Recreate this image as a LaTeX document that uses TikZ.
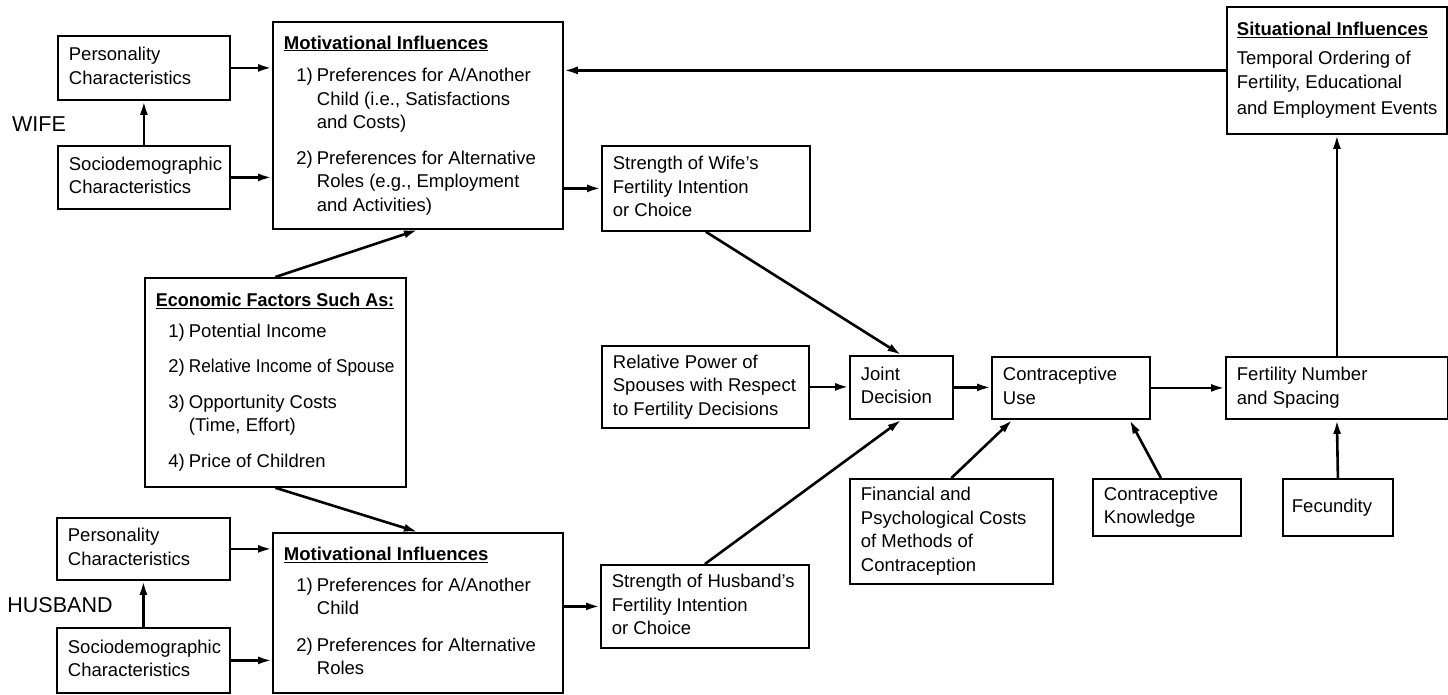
\documentclass[tikz,border=0pt]{standalone}
\usepackage{fontspec}
\setmainfont{Liberation Sans}
\usepackage{graphicx}
\usetikzlibrary{arrows.meta,calc}
\newcommand\dsize{\fontsize{18.5pt}{23.5pt}\selectfont}
\newcommand\lsize{\fontsize{21.5pt}{25pt}\selectfont}
\newcommand\ttl[1]{\underline{\textbf{#1}}}
\newcommand\itm[1]{\makebox[33pt][r]{#1\hspace{4pt}}}
\newcommand\cnt{\hspace*{33pt}}
\newcommand\bt[2]{\makebox[#1][l]{\begin{tabular}{@{}l@{}}#2\end{tabular}}}
\begin{document}
\begin{tikzpicture}[x=1pt,y=-1pt,
  box/.style={draw, line width=1.8pt, anchor=north west, inner xsep=11pt, inner ysep=0pt, font=\dsize},
  lab/.style={font=\lsize, inner sep=0pt},
  arr/.style={line width=2.6pt, -{Latex[length=14pt,width=8pt]}}]
\useasboundingbox (0,0) rectangle (1448,695);
% WIFE side
\node[lab] (wife) at (39,124) {WIFE};
\node[box, minimum height=64pt] (wp) at (57,35) {\bt{150pt}{Personality\\Characteristics}};
\node[box, minimum height=63pt] (ws) at (57,145) {\bt{150pt}{Sociodemographic\\Characteristics}};
\node[box, minimum height=207pt] (wm) at (272,21) {\bt{268pt}{\ttl{Motivational Influences}\\[9pt]
\itm{1)}Preferences for A/Another\\
\cnt Child (i.e., Satisfactions\\
\cnt and Costs)\\[12pt]
\itm{2)}Preferences for Alternative\\
\cnt Roles (e.g., Employment\\
\cnt and Activities)}};
\node[box, minimum height=85pt] (wstr) at (601,145) {\bt{186pt}{Strength of Wife's\\Fertility Intention\\or Choice}};
% Economic factors
\node[box, minimum height=209pt] (econ) at (144,277) {\bt{239pt}{\scalebox{0.97}[1]{\ttl{Economic Factors Such As:}}\\[7pt]
\itm{1)}Potential Income\\[12pt]
\itm{2)}\scalebox{0.93}[1]{Relative Income of Spouse}\\[12pt]
\itm{3)}Opportunity Costs\\
\cnt (Time, Effort)\\[12pt]
\itm{4)}Price of Children}};
% HUSBAND side
\node[lab] (husband) at (60,605) {HUSBAND};
\node[box, minimum height=62pt] (hp) at (56,517) {\bt{151pt}{Personality\\Characteristics}};
\node[box, minimum height=65pt] (hs) at (56,627) {\bt{151pt}{Sociodemographic\\Characteristics}};
\node[box, minimum height=160pt] (hm) at (272,532) {\bt{268pt}{\ttl{Motivational Influences}\\[7pt]
\itm{1)}Preferences for A/Another\\
\cnt Child\\[13pt]
\itm{2)}Preferences for Alternative\\
\cnt Roles}};
\node[box, minimum height=83pt] (hstr) at (600,564) {\bt{186pt}{Strength of Husband's\\Fertility Intention\\or Choice}};
% middle and right
\node[box, minimum height=82pt] (rp) at (601,345) {\bt{185pt}{Relative Power of\\Spouses with Respect\\to Fertility Decisions}};
\node[box, minimum height=63pt] (jd) at (849,355) {\bt{81pt}{Joint\\Decision}};
\node[box, minimum height=62pt] (cu) at (991,356) {\bt{136pt}{Contraceptive\\Use}};
\node[box, minimum height=62pt] (fn) at (1225,356) {\bt{200pt}{Fertility Number\\and Spacing}};
\node[box, minimum height=105pt] (fin) at (849,478) {\bt{181pt}{Financial and\\Psychological Costs\\of Methods of\\Contraception}};
\node[box, minimum height=57pt] (ck) at (1092,478) {\bt{126pt}{Contraceptive\\Knowledge}};
\node[box, minimum height=57pt, inner xsep=9pt] (fec) at (1282,478) {\bt{92pt}{Fecundity}};
\node[box, minimum height=127pt, inner xsep=10pt] (sit) at (1226,6) {\bt{200pt}{\ttl{Situational Influences}\\[5pt]
Temporal Ordering of\\[1pt]Fertility, Educational\\[2pt]and Employment Events}};
% connectors
\draw[arr] (ws.north) -- (wp.south);
\draw[arr] (wp.east) -- (wm.west |- wp.east);
\draw[arr] (ws.east) -- (wm.west |- ws.east);
\draw[arr] (wm.east |- wstr.west) -- (wstr.west);
\draw[arr] (sit.west) -- (wm.east |- sit.west);
\draw[arr] (econ.north) -- (wm.south);
\draw[arr] (econ.south) -- (hm.north);
\draw[arr] (hs.north) -- (hp.south);
\draw[arr] (hp.east) -- (hm.west |- hp.east);
\draw[arr] (hs.east) -- (hm.west |- hs.east);
\draw[arr] (hm.east |- hstr.west) -- (hstr.west);
\draw[arr] (wstr.south) -- (jd.north);
\draw[arr] (hstr.north) -- (jd.south);
\draw[arr] (rp.east) -- (jd.west |- rp.east);
\draw[arr] (jd.east) -- (cu.west |- jd.east);
\draw[arr] (cu.east) -- (fn.west |- cu.east);
\draw[arr] (fin.north) -- ($(cu.south west)!0.134!(cu.south east)$);
\draw[arr] ($(ck.north west)!0.46!(ck.north east)$) -- ($(cu.south west)!0.867!(cu.south east)$);
\draw[arr] (fec.north) -- (fn.south);
\draw[arr] (fn.north) -- (sit.south);
\end{tikzpicture}
\end{document}
